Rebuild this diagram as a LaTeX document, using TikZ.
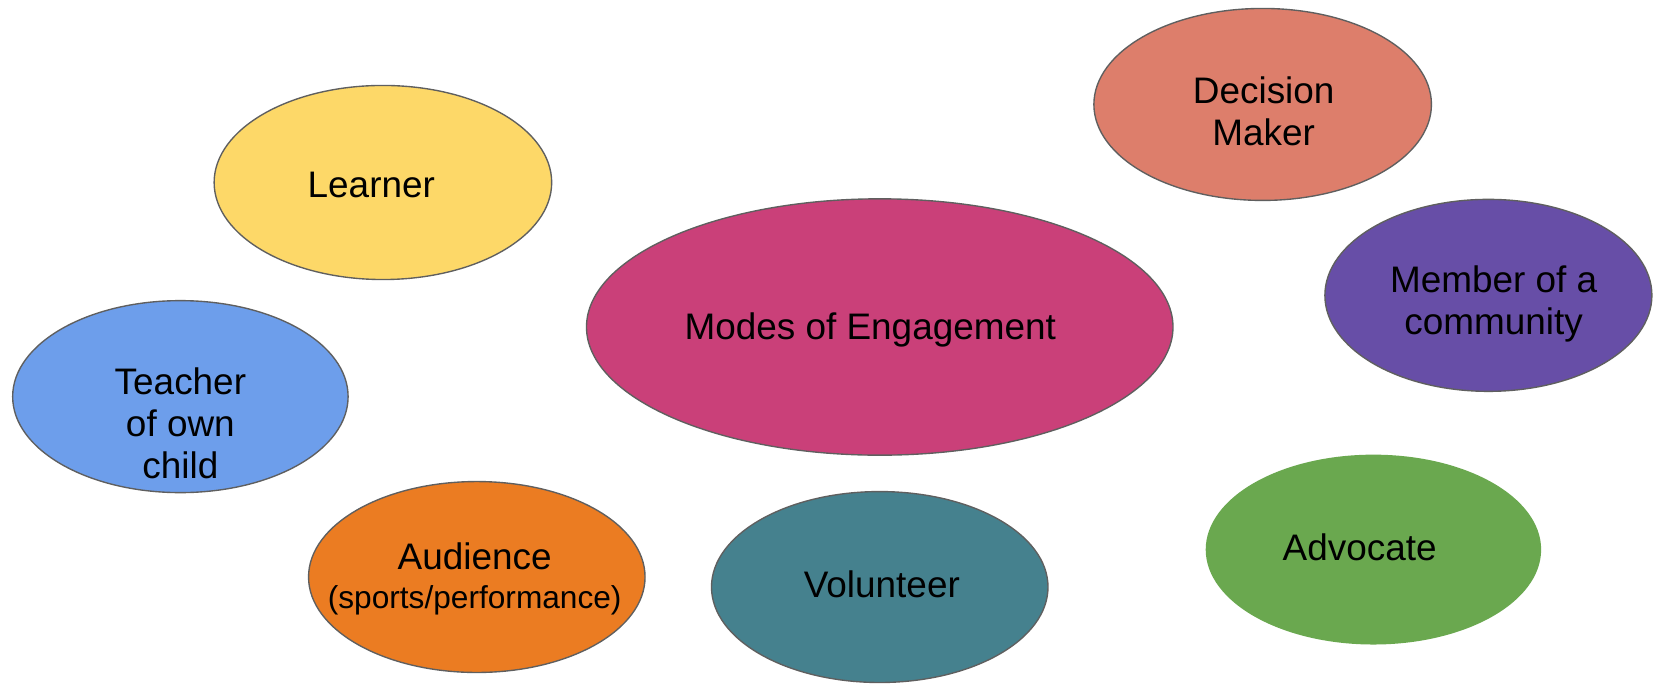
\documentclass[tikz,border=0pt]{standalone}
\usepackage{fontspec}
\setmainfont{Liberation Sans}
\usetikzlibrary{shapes.geometric}
\definecolor{cLearner}{HTML}{FDD868}
\definecolor{cDecision}{HTML}{DD7E6B}
\definecolor{cModes}{HTML}{CA4079}
\definecolor{cMember}{HTML}{674EA7}
\definecolor{cTeacher}{HTML}{6D9EEB}
\definecolor{cAudience}{HTML}{EB7C22}
\definecolor{cVolunteer}{HTML}{45818E}
\definecolor{cAdvocate}{HTML}{6AA84F}
\definecolor{cBorder}{HTML}{5F5F5F}
\tikzset{
  bubble/.style={ellipse, inner sep=0pt, draw=cBorder, line width=1.3pt},
  lbl/.style={font=\fontsize{35}{40}\selectfont, align=center, inner sep=0pt, anchor=base, text=black},
}
\begin{document}
\begin{tikzpicture}[x=1pt, y=-1pt]
\useasboundingbox[fill=white] (0,0) rectangle (1568,648);
% bubbles
\node[bubble, fill=cLearner, minimum width=320pt, minimum height=184pt] (learner) at (363,173) {};
\node[bubble, fill=cDecision, minimum width=320pt, minimum height=182pt] (decision) at (1197,99) {};
\node[bubble, fill=cModes, minimum width=556pt, minimum height=243pt] (modes) at (834,310) {};
\node[bubble, fill=cMember, minimum width=310pt, minimum height=182pt] (member) at (1411,280) {};
\node[bubble, fill=cTeacher, minimum width=318pt, minimum height=182pt] (teacher) at (171,376) {};
\node[bubble, fill=cAudience, minimum width=319pt, minimum height=181pt] (audience) at (452,547) {};
\node[bubble, fill=cVolunteer, minimum width=319pt, minimum height=181pt] (volunteer) at (834,556.5) {};
\node[bubble, draw=none, fill=cAdvocate, minimum width=318pt, minimum height=180pt] (advocate) at (1302,521) {};
% labels (base = baseline of last line)
\node[lbl] (tLearner) at (352,187) {Learner};
\node[lbl] (tDecision) at (1198,138) {Decision\\Maker};
\node[lbl] (tModes) at (825,322) {Modes of Engagement};
\node[lbl] (tMember) at (1416,317) {Member of a\\community};
\node[lbl] (tTeacher) at (171,454) {Teacher\\of own\\child};
\node[lbl] (tAudience) at (450,577) {Audience\\[-3pt]{\fontsize{30}{34}\selectfont (sports/performance)}};
\node[lbl] (tVolunteer) at (836,566) {Volunteer};
\node[lbl] (tAdvocate) at (1289,531) {Advocate};
\end{tikzpicture}
\end{document}
